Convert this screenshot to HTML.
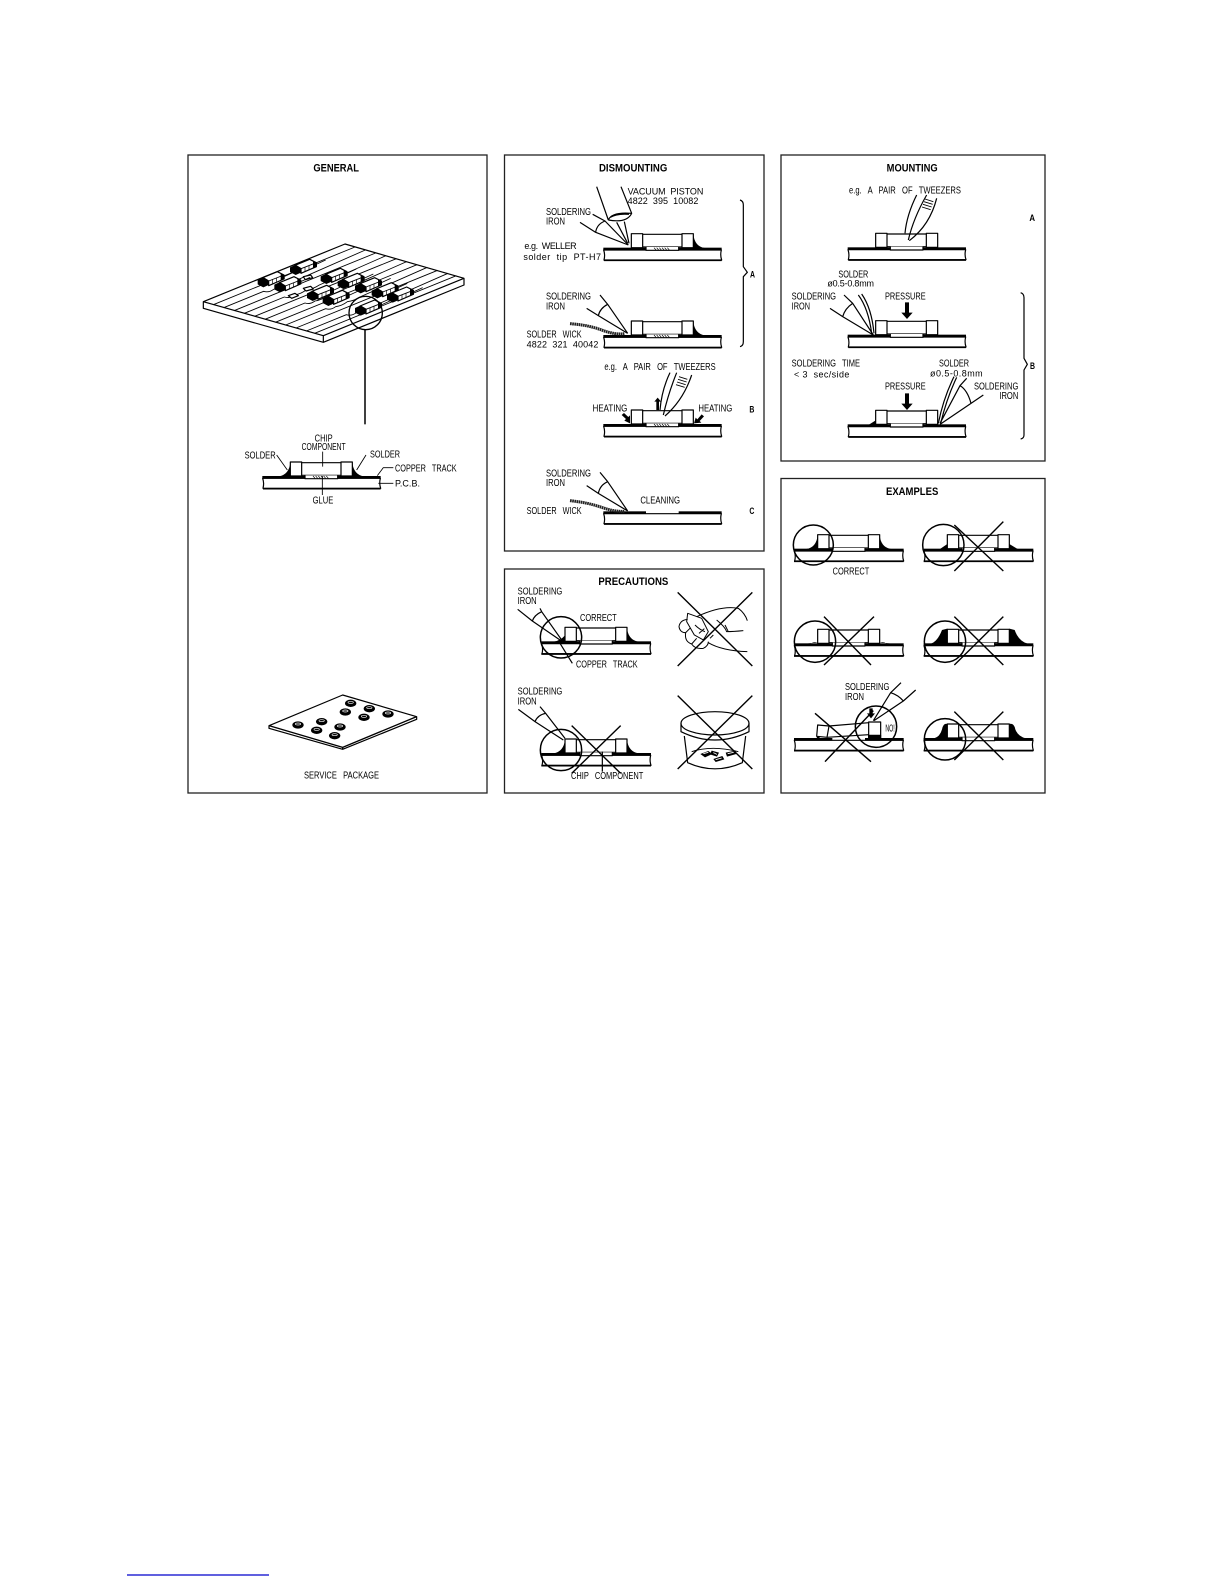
<!DOCTYPE html>
<html><head><meta charset="utf-8"><style>
html,body{margin:0;padding:0;background:#fff}
svg{display:block}
text{font-family:"Liberation Sans",sans-serif;font-size:29px;fill:#000;stroke:none;white-space:pre}
text.t{font-size:33px;font-weight:bold}
text.s{font-size:27px}
.z{fill:none;stroke:#000;stroke-width:3.6;stroke-linejoin:round}
.k{fill:#000;stroke:none}
.w{fill:#fff}
</style></head><body>
<svg width="1225" height="1585" viewBox="0 0 1225 1585" xmlns="http://www.w3.org/2000/svg">
<rect width="1225" height="1585" fill="#fff"/>
<defs>
<g id="chip"><rect class="w" x="84" y="-46" width="34" height="42"/><rect class="w" x="236" y="-46" width="34" height="42"/><path d="M118-44H236M118-6H236"/><path class="w" d="M128-6V4H226V-6"/></g>
<path id="hatch" d="M152-4l6 7M160-4l6 7M168-4l6 7M176-4l6 7M184-4l6 7M192-4l6 7" stroke-width="2"/>
<g id="pcbA"><path class="w" d="M1 3Q6 18 2 33H355Q350 18 354 3Z"/><path d="M2 34H355" stroke-width="5"/><rect class="k" x="0" y="-4" width="128" height="8"/><rect class="k" x="226" y="-4" width="129" height="8"/></g>
<g id="pcbB"><path class="w" d="M14 3Q19 18 15 33H342Q337 18 341 3Z"/><path d="M13 34H342" stroke-width="5"/><rect class="k" x="13" y="-4" width="115" height="8"/><rect class="k" x="226" y="-4" width="116" height="8"/></g>
<path id="filR" class="k" d="M270-44Q274-8 304-3L270-3Z"/>
<path id="filL" class="k" d="M84-44Q80-8 50-3L84-3Z"/>
<path id="tr1" d="M0 0L425-173"/>
<path id="tr2" d="M0 0L120-49Q135-44 150-55Q170-58 185-70Q205-72 225-85L425-173"/>
<g id="c3"><path d="M66-18L92-30" stroke-width="2.6"/><path class="w" d="M0-14L44-32L64-22V-10L18 10V-4Z"/><path d="M18-4L64-22" stroke-width="2.6"/><path d="M30-9V6M42-14V0" stroke-width="2"/><path class="k" d="M54-27L66-21V-10L54-5Z"/><path class="k" d="M-15-8L2-16L18-6V8L2 15L-15 6Z"/></g>
<g id="c4"><ellipse class="k" cx="0" cy="0" rx="17" ry="11"/><ellipse cx="0" cy="-3" rx="8" ry="3" stroke="#fff" stroke-width="2"/></g>
</defs>

<g fill="none" stroke="#222" stroke-width="1.3">
<rect x="188" y="155" width="299" height="638"/>
<rect x="504.5" y="155" width="259.5" height="396"/>
<rect x="504.5" y="569" width="259.5" height="224"/>
<rect x="781" y="155" width="264" height="306"/>
<rect x="781" y="478.5" width="264" height="314.5"/>
</g>
<path d="M127 1575H269" stroke="#0000cc" stroke-width="1.3"/>

<!-- GENERAL -->
<g transform="translate(180,145) scale(.33333)" class="z">
<text class="t" x="400" y="80" textLength="137" lengthAdjust="spacingAndGlyphs">GENERAL</text>
<path class="w" d="M70 470L495 297L852 400V420L430 592L70 490Z"/>
<path d="M70 470L430 572L852 400M430 572V592"/>
<g stroke-width="2.6">
<use href="#tr1" x="100" y="479"/><use href="#tr2" x="131" y="488"/><use href="#tr1" x="162" y="497"/><use href="#tr2" x="193" y="505"/><use href="#tr1" x="224" y="514"/><use href="#tr2" x="255" y="523"/><use href="#tr1" x="286" y="532"/><use href="#tr2" x="317" y="540"/><use href="#tr1" x="348" y="549"/><use href="#tr2" x="379" y="558"/><use href="#tr1" x="404" y="565"/>
</g>
<path class="w" d="M370 395L392 390L398 398L376 404Z M370 430L392 424L400 432L378 438Z M325 452L345 445L355 452L335 460Z"/>
<use href="#c3" x="345" y="375"/><use href="#c3" x="248" y="412"/><use href="#c3" x="298" y="427"/><use href="#c3" x="437" y="402"/><use href="#c3" x="488" y="417"/><use href="#c3" x="540" y="430"/><use href="#c3" x="590" y="445"/><use href="#c3" x="636" y="458"/><use href="#c3" x="396" y="453"/><use href="#c3" x="443" y="468"/><use href="#c3" x="540" y="497"/>
<circle cx="557" cy="504" r="50" stroke-width="4"/>
<path d="M555 555V838" stroke-width="4.5"/>
<g transform="translate(247,997)"><use href="#pcbA"/><use href="#chip"/><use href="#hatch"/><use href="#filL"/><use href="#filR"/></g>
<path d="M428 920V965M427 993V1050M290 930L322 975M558 930L530 975M640 968H610L592 992M640 1015H595" stroke-width="2.6"/>
<text x="404" y="889" textLength="54" lengthAdjust="spacingAndGlyphs">CHIP</text>
<text x="365" y="915" textLength="132" lengthAdjust="spacingAndGlyphs">COMPONENT</text>
<text x="194" y="940" textLength="93" lengthAdjust="spacingAndGlyphs">SOLDER</text>
<text x="570" y="938" textLength="90" lengthAdjust="spacingAndGlyphs">SOLDER</text>
<text x="645" y="980" textLength="185" lengthAdjust="spacingAndGlyphs">COPPER   TRACK</text>
<text class="s" x="645" y="1025" textLength="75" lengthAdjust="spacing">P.C.B.</text>
<text x="398" y="1075" textLength="62" lengthAdjust="spacingAndGlyphs">GLUE</text>
</g>

<!-- SERVICE PACKAGE -->
<g transform="translate(230,670) scale(.33333)" class="z">
<path class="w" d="M338 75L560 140V148L338 238L117 175V167Z"/>
<path d="M117 167L338 232L560 140M338 232V238" stroke-width="4"/>
<use href="#c4" x="362" y="100"/><use href="#c4" x="418" y="116"/><use href="#c4" x="474" y="132"/><use href="#c4" x="346" y="126"/><use href="#c4" x="402" y="142"/><use href="#c4" x="275" y="155"/><use href="#c4" x="330" y="171"/><use href="#c4" x="204" y="165"/><use href="#c4" x="260" y="181"/><use href="#c4" x="314" y="197"/>
<text x="222" y="325" textLength="225" lengthAdjust="spacingAndGlyphs">SERVICE   PACKAGE</text>
</g>

<!-- DISMOUNTING top -->
<g transform="translate(495,145) scale(.33333)" class="z">
<text class="t" x="312" y="80" textLength="205" lengthAdjust="spacingAndGlyphs">DISMOUNTING</text>
<text class="s" x="398" y="148" textLength="227" lengthAdjust="spacing">VACUUM  PISTON</text>
<text class="s" x="398" y="177" textLength="212" lengthAdjust="spacing">4822  395  10082</text>
<text x="153" y="210" textLength="135" lengthAdjust="spacingAndGlyphs">SOLDERING</text>
<text x="153" y="238" textLength="57" lengthAdjust="spacingAndGlyphs">IRON</text>
<text class="s" x="88" y="312" textLength="157" lengthAdjust="spacing">e.g.  WELLER</text>
<text class="s" x="85" y="345" textLength="233" lengthAdjust="spacing">solder  tip  PT-H7</text>
<text class="t" x="765" y="397" textLength="15" lengthAdjust="spacingAndGlyphs" style="font-size:28px">A</text>
<text x="153" y="463" textLength="135" lengthAdjust="spacingAndGlyphs">SOLDERING</text>
<text x="153" y="493" textLength="57" lengthAdjust="spacingAndGlyphs">IRON</text>
<text x="95" y="577" textLength="165" lengthAdjust="spacingAndGlyphs">SOLDER   WICK</text>
<text class="s" x="95" y="607" textLength="215" lengthAdjust="spacing">4822  321  40042</text>
<g transform="translate(325,312)"><use href="#pcbA"/><use href="#chip"/><use href="#hatch"/><use href="#filR"/></g>
<g transform="translate(325,574)"><use href="#pcbA"/><use href="#chip"/><use href="#hatch"/><use href="#filR"/></g>
<path d="M255 232L302 262L400 300M293 208L330 228L400 300M302 262Q305 238 330 228"/>
<path d="M305 125L340 225M378 125L410 205M340 225Q350 200 410 205Q395 235 340 225M344 218Q365 205 402 208M365 232L398 295M388 230L402 295"/>
<path d="M315 450L338 478L398 565M275 490L310 512L398 565M310 512Q315 490 338 478"/>
<path d="M225 536Q280 540 320 555T388 566" stroke-width="9" stroke="#222" stroke-dasharray="5 1.5"/>
<path d="M735 165Q745 168 745 180V365L757 382L745 395V590Q745 603 735 605"/>
</g>

<!-- DISMOUNTING bottom -->
<g transform="translate(495,350) scale(.33333)" class="z">
<text x="328" y="60" textLength="334" lengthAdjust="spacingAndGlyphs">e.g.   A   PAIR   OF   TWEEZERS</text>
<text x="293" y="185" textLength="104" lengthAdjust="spacingAndGlyphs">HEATING</text>
<text x="610" y="185" textLength="102" lengthAdjust="spacingAndGlyphs">HEATING</text>
<text class="t" x="763" y="187" textLength="15" lengthAdjust="spacingAndGlyphs" style="font-size:28px">B</text>
<text x="153" y="380" textLength="135" lengthAdjust="spacingAndGlyphs">SOLDERING</text>
<text x="153" y="408" textLength="57" lengthAdjust="spacingAndGlyphs">IRON</text>
<text x="436" y="460" textLength="119" lengthAdjust="spacingAndGlyphs">CLEANING</text>
<text x="95" y="492" textLength="165" lengthAdjust="spacingAndGlyphs">SOLDER   WICK</text>
<text class="t" x="763" y="492" textLength="15" lengthAdjust="spacingAndGlyphs" style="font-size:28px">C</text>
<g transform="translate(325,226)"><use href="#pcbA"/><use href="#chip"/><use href="#hatch"/></g>
<g transform="translate(325,488)"><use href="#pcbA"/></g>
<path d="M525 68Q500 120 495 180M545 68Q520 130 505 195M590 75Q565 150 510 198"/>
<path d="M552 80l25 8M549 88l26 8M546 96l26 8M543 104l26 8" stroke-width="2.6"/>
<path class="k" d="M488 143L498 155H492V180H484V155H478Z"/>
<path class="k" d="M405 220L388 212L393 207L380 195L387 189L400 201L405 196Z"/>
<path class="k" d="M597 220L602 203L607 208L620 193L627 199L614 213L619 218Z"/>
<path d="M315 367L338 395L398 483M275 407L310 430L398 483M310 430Q315 405 338 395"/>
<path d="M225 452Q280 458 320 472T388 484" stroke-width="9" stroke="#222" stroke-dasharray="5 1.5"/>
</g>

<!-- PRECAUTIONS -->
<g transform="translate(495,560) scale(.33333)" class="z">
<text class="t" x="310" y="75" textLength="210" lengthAdjust="spacingAndGlyphs">PRECAUTIONS</text>
<text x="68" y="103" textLength="134" lengthAdjust="spacingAndGlyphs">SOLDERING</text>
<text x="68" y="132" textLength="57" lengthAdjust="spacingAndGlyphs">IRON</text>
<text x="255" y="183" textLength="110" lengthAdjust="spacingAndGlyphs">CORRECT</text>
<text x="243" y="322" textLength="185" lengthAdjust="spacingAndGlyphs">COPPER   TRACK</text>
<text x="68" y="403" textLength="134" lengthAdjust="spacingAndGlyphs">SOLDERING</text>
<text x="68" y="433" textLength="57" lengthAdjust="spacingAndGlyphs">IRON</text>
<text x="228" y="657" textLength="217" lengthAdjust="spacingAndGlyphs">CHIP   COMPONENT</text>
<g transform="translate(126,248)"><use href="#pcbB"/><use href="#chip"/><use href="#filR"/><path class="k" d="M84-22Q70-6 50-3H84Z"/></g>
<g transform="translate(126,583)"><use href="#pcbB"/><use href="#chip"/><use href="#filL"/><use href="#filR"/></g>
<circle cx="198" cy="232" r="62" stroke-width="4.5"/>
<circle cx="198" cy="570" r="62" stroke-width="4.5"/>
<path d="M68 148L112 183L195 240M135 145L140 155L200 240M112 183Q118 165 140 155M232 310L195 250"/>
<path d="M70 448L120 485L205 540M135 440L152 460L210 535M120 485Q128 465 152 460M322 575V635"/>
<path d="M548 97L772 318M548 318L772 97M230 497L377 640M230 640L377 497M548 407L772 627M548 627L772 407" stroke-width="4.2"/>
<path d="M605 170Q680 135 730 145Q750 160 757 182M745 212Q715 215 695 215Q690 200 665 180M640 248Q680 272 757 275M690 195L700 215" stroke-width="3"/>
<path d="M578 160L620 175L640 215L625 240L598 225L575 185ZM578 178Q555 180 552 200Q555 218 572 218L585 205M572 218Q568 245 590 252L605 235M590 252Q600 268 625 265Q640 258 640 245M600 195Q615 210 630 215M612 220L628 206M645 235L655 225" stroke-width="3"/>
<ellipse cx="660" cy="490" rx="102" ry="35"/>
<path d="M558 490V515Q660 565 762 515V490M568 528L578 608Q660 645 742 608L752 528"/>
<path d="M590 575Q650 555 730 575" stroke-width="2.6"/>
<path class="k" d="M616 582L640 573L652 582L630 592ZM650 572L672 578L666 590L645 583ZM655 597L682 588L688 598L662 606ZM692 578L722 572L724 582L696 590Z"/>
<path d="M625 581L640 577M655 578L666 583M662 599L680 594M698 581L716 577" stroke="#fff" stroke-width="2.5"/>
</g>

<!-- MOUNTING -->
<g transform="translate(770,145) scale(.33333)" class="z">
<text class="t" x="350" y="80" textLength="153" lengthAdjust="spacingAndGlyphs">MOUNTING</text>
<text x="237" y="145" textLength="336" lengthAdjust="spacingAndGlyphs">e.g.   A   PAIR   OF   TWEEZERS</text>
<text class="t" x="778" y="228" textLength="17" lengthAdjust="spacingAndGlyphs" style="font-size:28px">A</text>
<text x="205" y="397" textLength="90" lengthAdjust="spacingAndGlyphs">SOLDER</text>
<text class="s" x="172" y="425" textLength="140" lengthAdjust="spacing">ø0.5-0.8mm</text>
<text x="65" y="463" textLength="133" lengthAdjust="spacingAndGlyphs">SOLDERING</text>
<text x="65" y="493" textLength="55" lengthAdjust="spacingAndGlyphs">IRON</text>
<text x="345" y="463" textLength="122" lengthAdjust="spacingAndGlyphs">PRESSURE</text>
<text x="65" y="665" textLength="205" lengthAdjust="spacingAndGlyphs">SOLDERING   TIME</text>
<text class="s" x="72" y="697" textLength="166" lengthAdjust="spacing">&lt; 3  sec/side</text>
<text x="507" y="665" textLength="90" lengthAdjust="spacingAndGlyphs">SOLDER</text>
<text class="s" x="480" y="695" textLength="158" lengthAdjust="spacing">ø0.5-0.8mm</text>
<text x="612" y="733" textLength="133" lengthAdjust="spacingAndGlyphs">SOLDERING</text>
<text x="688" y="762" textLength="57" lengthAdjust="spacingAndGlyphs">IRON</text>
<text x="345" y="733" textLength="122" lengthAdjust="spacingAndGlyphs">PRESSURE</text>
<text class="t" x="780" y="672" textLength="15" lengthAdjust="spacingAndGlyphs" style="font-size:28px">B</text>
<g transform="translate(233,311)"><use href="#pcbA"/><use href="#chip"/></g>
<g transform="translate(233,573)"><use href="#pcbA"/><use href="#chip"/></g>
<g transform="translate(233,842)"><use href="#pcbA"/><use href="#chip"/><path class="k" d="M84-3L64-3L84-16Z"/></g>
<path d="M440 150Q410 210 405 265M470 150Q430 220 415 285M500 160Q480 240 418 287"/>
<path d="M465 162l25 8M462 170l26 8M459 178l26 8M456 186l26 8" stroke-width="2.6"/>
<path d="M222 450L248 475L310 570M180 490L218 515L310 570M218 515Q225 490 248 475"/>
<path d="M265 450Q295 490 305 565M275 447Q305 490 312 565"/>
<path class="k" d="M405 472H417V503H428L411 522L394 503H405Z"/>
<path class="k" d="M405 745H417V776H428L411 795L394 776H405Z"/>
<path d="M590 700L570 722L510 835M640 750L603 775L510 838M570 722Q592 735 603 775"/>
<path d="M552 695Q520 760 505 835M560 697Q530 760 512 835"/>
<path d="M752 443Q762 446 762 458V640L772 658L762 675V870Q762 880 752 882"/>
</g>

<!-- EXAMPLES -->
<g transform="translate(770,470) scale(.33333)" class="z">
<text class="t" x="348" y="75" textLength="157" lengthAdjust="spacingAndGlyphs">EXAMPLES</text>
<text x="188" y="313" textLength="110" lengthAdjust="spacingAndGlyphs">CORRECT</text>
<text x="225" y="660" textLength="133" lengthAdjust="spacingAndGlyphs">SOLDERING</text>
<text x="225" y="690" textLength="57" lengthAdjust="spacingAndGlyphs">IRON</text>
<g transform="translate(59,240)"><use href="#pcbB"/><use href="#chip"/><use href="#filR"/><use href="#filL"/></g>
<g transform="translate(448,240)"><use href="#pcbB"/><use href="#chip"/><path class="k" d="M84-18L62-3H84ZM270-18L295-3H270Z"/></g>
<g transform="translate(59,524)"><use href="#pcbB"/><use href="#chip"/><path class="k" d="M84-6Q72-10 64-3H50ZM270-6Q282-10 290-3H305Z"/></g>
<g transform="translate(448,524)"><use href="#pcbB"/><use href="#chip"/><path class="k" d="M84-48L68-44Q55-10 35-3H84ZM270-48L286-44Q298-10 325-3H270Z"/></g>
<g transform="translate(59,808)"><use href="#pcbB"/><path class="k" d="M74-3Q86-3 82-14L92-3Z"/>
<path class="w" d="M84-43L118-40L112-6L81-9Z"/><path d="M118-40L237-50M112-6L237-14"/><rect class="w" x="237" y="-52" width="36" height="40"/><rect class="k" x="235" y="-12" width="40" height="10"/></g>
<g transform="translate(448,808)"><use href="#pcbB"/><use href="#chip"/><path class="k" d="M84-46Q72-50 68-30Q62-8 44-3H84ZM270-46Q284-50 288-30Q296-8 320-3H270Z"/></g>
<circle cx="130" cy="225" r="60" stroke-width="4.5"/>
<circle cx="520" cy="225" r="62" stroke-width="4.5"/>
<circle cx="135" cy="515" r="62" stroke-width="4.5"/>
<circle cx="525" cy="515" r="62" stroke-width="4.5"/>
<circle cx="318" cy="770" r="62" stroke-width="4.5"/>
<circle cx="525" cy="808" r="62" stroke-width="4.5"/>
<text transform="translate(346,784) scale(.55,1)">NO!</text>
<path d="M553 165L700 303M553 303L700 155M162 440L303 585M162 585L312 440M553 440L700 585M553 585L700 440M135 730L303 875M165 875L310 722M553 725L700 870M553 870L700 725" stroke-width="4.2"/>
<path d="M393 638L362 668L310 752M437 660L400 693L312 752M362 668Q385 675 400 693"/>
<path class="k" d="M298 715H308V730H315L303 745L291 730H298Z"/>
</g>
</svg>
</body></html>
